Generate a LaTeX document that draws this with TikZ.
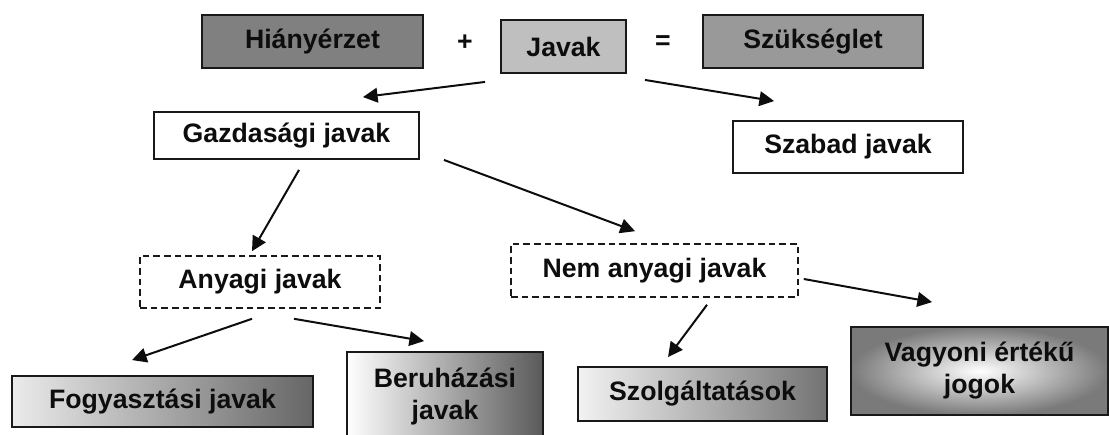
\documentclass[tikz,border=0pt]{standalone}
\usepackage{fontspec}
\setmainfont{Liberation Sans}
\usetikzlibrary{arrows.meta}
\tikzset{
	box/.style={
			draw=black!90, line width=1.4pt, inner sep=0pt, align=center,
			text=black!95, font=\fontsize{20pt}{24pt}\selectfont\bfseries
		},
	dashbox/.style={box, line width=1.2pt, dash pattern=on 5pt off 3pt},
	arr/.style={-{Triangle[length=11pt,width=11pt]}, line width=1.5pt, draw=black!95}
}

\begin{document}
\begin{tikzpicture}[x=0.75pt,y=-0.75pt]
        \useasboundingbox (0,0) rectangle (1109,435);
        \node[box, fill=black!50, minimum width=165.75pt, minimum height=39.75pt] (hiany) at (312.5,41.5) {Hiányérzet};
        \node[box, draw=none] (plus) at (465,43) {+};
        \node[box, fill=black!25, minimum width=93.75pt, minimum height=39.75pt] (javak) at (563.5,46.5) {Javak};
        \node[box, draw=none] (egyenlo) at (663,43) {=};
        \node[box, fill=black!40, minimum width=165pt, minimum height=39.75pt] (szuks) at (813,41.5) {Szükséglet};
        \node[box, fill=white, minimum width=198.75pt, minimum height=35.25pt] (gazd) at (286.5,135.5) {Gazdasági javak};
        \node[box, fill=white, minimum width=172.5pt, minimum height=39pt] (szabad) at (848,147) {Szabad javak};
        \node[dashbox, minimum width=180pt, minimum height=39pt] (anyagi) at (260,282) {Anyagi javak};
        \node[dashbox, minimum width=215.25pt, minimum height=39.75pt] (nemany) at (654.5,270.5) {Nem anyagi javak};
        \node[box, left color=black!8, right color=black!60, minimum width=225.75pt, minimum height=38.25pt] (fogy) at (162.5,401.5) {Fogyasztási javak};
        \node[box, left color=white, right color=black!65, minimum width=147pt, minimum height=66pt] (beruh) at (445,396) {Beruházási\\javak};
        \node[box, left color=black!5, right color=black!55, minimum width=186.75pt, minimum height=40.5pt] (szolg) at (702.5,394) {Szolgáltatások};
        \node[box, inner color=white, outer color=black!52, minimum width=192.75pt, minimum height=66pt] (vagyon) at (979.5,371) {Vagyoni értékű\\jogok};
        \draw[arr] ([shift={(-15,8)}]javak.south west) -- ([shift={(-57,-14)}]gazd.north east);
        \draw[arr] ([shift={(18,6)}]javak.south east) -- ([shift={(42,-19)}]szabad.north west);
        \draw[arr] ([shift={(12.5,10)}]gazd.south) -- ([shift={(-8,-4)}]anyagi.north);
        \draw[arr] ([shift={(24,0)}]gazd.south east) -- ([shift={(-19.5,-12)}]nemany.north);
        \draw[arr] ([shift={(-8,10)}]anyagi.south) -- ([shift={(-30.5,-15)}]fogy.north);
        \draw[arr] ([shift={(34,10)}]anyagi.south) -- ([shift={(78,-10)}]beruh.north west);
        \draw[arr] ([shift={(52.5,7)}]nemany.south) -- ([shift={(-34.5,-9)}]szolg.north);
        \draw[arr] ([shift={(5,8.5)}]nemany.east) -- ([shift={(82,-24)}]vagyon.north west);
    \end{tikzpicture}
\end{document}
